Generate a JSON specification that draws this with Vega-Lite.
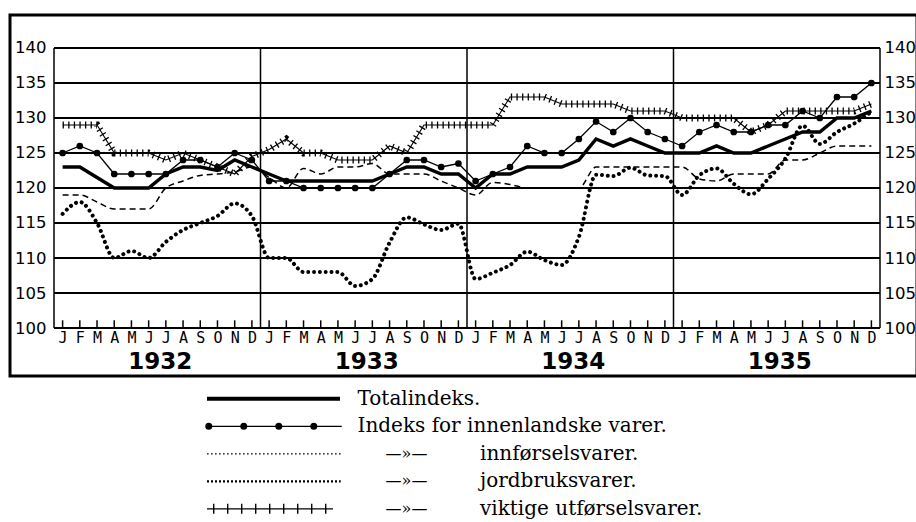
{
  "$schema": "https://vega.github.io/schema/vega-lite/v6.json",
  "padding": {"left": 8, "top": 13, "right": 0, "bottom": 0},
  "background": "white",
  "config": {"view": {"stroke": null}, "font": "DejaVu Sans"},
  "spacing": 1,
  "datasets": {
    "prices": [
      {"t":0,"total":123,"innen":125,"innf":119,"jord":116.3,"utf":129},
      {"t":1,"total":123,"innen":126,"innf":119,"jord":118,"utf":129},
      {"t":2,"total":121.5,"innen":125,"innf":118,"jord":115,"utf":129},
      {"t":3,"total":120,"innen":122,"innf":117,"jord":110,"utf":125},
      {"t":4,"total":120,"innen":122,"innf":117,"jord":111,"utf":125},
      {"t":5,"total":120,"innen":122,"innf":117,"jord":110,"utf":125},
      {"t":6,"total":122,"innen":122,"innf":120,"jord":112.3,"utf":124},
      {"t":7,"total":123,"innen":124,"innf":121,"jord":114,"utf":125},
      {"t":8,"total":123,"innen":124,"innf":121.8,"jord":115,"utf":124},
      {"t":9,"total":122.5,"innen":123,"innf":122,"jord":116,"utf":123},
      {"t":10,"total":124,"innen":125,"innf":122.3,"jord":117.8,"utf":122},
      {"t":11,"total":123,"innen":124,"innf":123,"jord":116,"utf":124.5},
      {"t":12,"total":122,"innen":121,"innf":121.5,"jord":110,"utf":125.5},
      {"t":13,"total":121,"innen":121,"innf":120,"jord":110,"utf":127},
      {"t":14,"total":121,"innen":120,"innf":122.8,"jord":108,"utf":125},
      {"t":15,"total":121,"innen":120,"innf":122,"jord":108,"utf":125},
      {"t":16,"total":121,"innen":120,"innf":123,"jord":108,"utf":124},
      {"t":17,"total":121,"innen":120,"innf":123,"jord":106,"utf":124},
      {"t":18,"total":121,"innen":120,"innf":123.5,"jord":107,"utf":124},
      {"t":19,"total":122,"innen":122,"innf":122,"jord":112.2,"utf":126},
      {"t":20,"total":123,"innen":124,"innf":122,"jord":115.8,"utf":125},
      {"t":21,"total":123,"innen":124,"innf":122,"jord":114.8,"utf":129},
      {"t":22,"total":122,"innen":123,"innf":121,"jord":114,"utf":129},
      {"t":23,"total":122,"innen":123.5,"innf":120,"jord":114.9,"utf":129},
      {"t":24,"total":120,"innen":121,"innf":119,"jord":107,"utf":129},
      {"t":25,"total":122,"innen":122,"innf":120.8,"jord":107.9,"utf":129},
      {"t":26,"total":122,"innen":123,"innf":120.5,"jord":109,"utf":133},
      {"t":27,"total":123,"innen":126,"innf":120,"jord":110.9,"utf":133},
      {"t":28,"total":123,"innen":125,"innf":120,"jord":109.7,"utf":133},
      {"t":29,"total":123,"innen":125,"innf":120,"jord":109,"utf":132},
      {"t":30,"total":124,"innen":127,"innf":120,"jord":113,"utf":132},
      {"t":31,"total":127,"innen":129.5,"innf":123,"jord":121.9,"utf":132},
      {"t":32,"total":126,"innen":128,"innf":123,"jord":121.7,"utf":132},
      {"t":33,"total":127,"innen":130,"innf":123,"jord":122.9,"utf":131},
      {"t":34,"total":126,"innen":128,"innf":123,"jord":121.8,"utf":131},
      {"t":35,"total":125,"innen":127,"innf":123,"jord":121.7,"utf":131},
      {"t":36,"total":125,"innen":126,"innf":123,"jord":119,"utf":130},
      {"t":37,"total":125,"innen":128,"innf":121.3,"jord":121.8,"utf":130},
      {"t":38,"total":126,"innen":129,"innf":121,"jord":122.8,"utf":130},
      {"t":39,"total":125,"innen":128,"innf":122,"jord":120.6,"utf":130},
      {"t":40,"total":125,"innen":128,"innf":122,"jord":119.1,"utf":128},
      {"t":41,"total":126,"innen":129,"innf":122,"jord":121.3,"utf":129},
      {"t":42,"total":127,"innen":129,"innf":124,"jord":124.2,"utf":131},
      {"t":43,"total":128,"innen":131,"innf":124,"jord":128.9,"utf":131},
      {"t":44,"total":128,"innen":130,"innf":125,"jord":126.3,"utf":131},
      {"t":45,"total":130,"innen":133,"innf":126,"jord":128,"utf":131},
      {"t":46,"total":130,"innen":133,"innf":126,"jord":129.2,"utf":131},
      {"t":47,"total":131,"innen":135,"innf":126,"jord":130.9,"utf":132}
    ],
    "hlines": [{"g":100},{"g":105},{"g":110},{"g":115},{"g":120},{"g":125},{"g":130},{"g":135},{"g":140}],
    "vlines": [{"v":-0.5},{"v":11.5},{"v":23.5},{"v":35.5},{"v":47.5}],
    "legend": [
      {"r":1,"label":"Totalindeks.","mid":""},
      {"r":2,"label":"Indeks for innenlandske varer.","mid":""},
      {"r":3,"label":"innførselsvarer.","mid":"—»—"},
      {"r":4,"label":"jordbruksvarer.","mid":"—»—"},
      {"r":5,"label":"viktige utførselsvarer.","mid":"—»—"}
    ]
  },
  "vconcat": [
    {
      "width": 907,
      "height": 361,
      "view": {"stroke": "black", "strokeWidth": 3},
      "resolve": {"axis": {"x": "independent", "y": "independent"}},
      "layer": [
        {
          "data": {"name": "hlines"},
          "mark": {"type": "rule", "color": "black", "strokeWidth": 1.8},
          "encoding": {
            "x": {"datum": -0.5, "type": "quantitative", "scale": {"domain": [-3.057, 49.65], "nice": false, "zero": false},
              "axis": {"orient": "bottom", "offset": -48, "values": [0,1,2,3,4,5,6,7,8,9,10,11,12,13,14,15,16,17,18,19,20,21,22,23,24,25,26,27,28,29,30,31,32,33,34,35,36,37,38,39,40,41,42,43,44,45,46,47],
                "labelExpr": "['J','F','M','A','M','J','J','A','S','O','N','D'][datum.value % 12]",
                "ticks": false, "domain": false, "grid": false, "title": null, "labelFont": "DejaVu Sans Mono", "labelFontSize": 15,
                "labelPadding": 2, "labelColor": "black", "labelAngle": 0, "labelOverlap": false, "labelFlush": false}},
            "x2": {"datum": 47.5},
            "y": {"field": "g", "type": "quantitative", "scale": {"domain": [93.143, 144.714], "nice": false, "zero": false},
              "axis": {"orient": "left", "offset": -40, "values": [100,105,110,115,120,125,130,135,140], "ticks": false, "domain": false, "grid": false,
                "title": null, "labelFont": "DejaVu Sans", "labelFontSize": 16.5, "labelColor": "black", "labelPadding": 4, "labelFlush": false}}
          }
        },
        {
          "data": {"name": "vlines"},
          "mark": {"type": "rule", "color": "black", "strokeWidth": 1.5},
          "encoding": {
            "x": {"field": "v", "type": "quantitative", "scale": {"domain": [-3.057, 49.65], "nice": false, "zero": false},
              "axis": {"orient": "bottom", "offset": -48, "values": [5.65, 17.65, 29.65, 41.65],
                "labelExpr": "'' + (1932 + floor(datum.value / 12))",
                "ticks": false, "domain": false, "grid": false, "title": null, "labelFont": "DejaVu Sans", "labelFontWeight": "bold",
                "labelFontSize": 23, "labelPadding": 22, "labelColor": "black", "labelFlush": false, "labelOverlap": false}},
            "y": {"datum": 100, "type": "quantitative", "scale": {"domain": [93.143, 144.714], "nice": false, "zero": false},
              "axis": {"orient": "right", "offset": -37, "values": [100,105,110,115,120,125,130,135,140], "ticks": false, "domain": false, "grid": false,
                "title": null, "labelFont": "DejaVu Sans", "labelFontSize": 16.5, "labelColor": "black", "labelPadding": 4, "labelFlush": false}},
            "y2": {"datum": 140}
          }
        },
        {
          "data": {"name": "prices"},
          "mark": {"type": "rule", "color": "black", "strokeWidth": 1.5},
          "encoding": {
            "x": {"field": "t", "type": "quantitative", "axis": null},
            "y": {"datum": 100, "type": "quantitative", "axis": null},
            "y2": {"datum": 101.1}
          }
        },
        {
          "data": {"name": "prices"},
          "mark": {"type": "line", "color": "black", "strokeWidth": 1.1},
          "encoding": {
            "x": {"field": "t", "type": "quantitative", "axis": null},
            "y": {"field": "utf", "type": "quantitative", "axis": null}
          }
        },
        {
          "data": {"name": "prices"},
          "mark": {"type": "line", "color": "black", "strokeWidth": 7, "strokeDash": [1.3, 4.3], "strokeCap": "butt"},
          "encoding": {
            "x": {"field": "t", "type": "quantitative", "axis": null},
            "y": {"field": "utf", "type": "quantitative", "axis": null}
          }
        },
        {
          "data": {"name": "prices"},
          "mark": {"type": "line", "color": "black", "strokeWidth": 1.5, "strokeDash": [6, 4], "interpolate": "monotone"},
          "encoding": {
            "x": {"field": "t", "type": "quantitative", "axis": null},
            "y": {"field": "innf", "type": "quantitative", "axis": null}
          }
        },
        {
          "data": {"name": "prices"},
          "mark": {"type": "line", "color": "black", "strokeWidth": 4, "strokeDash": [0.01, 5.8], "strokeCap": "round", "interpolate": "monotone"},
          "encoding": {
            "x": {"field": "t", "type": "quantitative", "axis": null},
            "y": {"field": "jord", "type": "quantitative", "axis": null}
          }
        },
        {
          "data": {"name": "prices"},
          "mark": {"type": "line", "color": "black", "strokeWidth": 3.5},
          "encoding": {
            "x": {"field": "t", "type": "quantitative", "axis": null},
            "y": {"field": "total", "type": "quantitative", "axis": null}
          }
        },
        {
          "data": {"name": "prices"},
          "mark": {"type": "line", "color": "black", "strokeWidth": 1.3},
          "encoding": {
            "x": {"field": "t", "type": "quantitative", "axis": null},
            "y": {"field": "innen", "type": "quantitative", "axis": null}
          }
        },
        {
          "data": {"name": "prices"},
          "mark": {"type": "point", "filled": true, "color": "black", "size": 45, "opacity": 1},
          "encoding": {
            "x": {"field": "t", "type": "quantitative", "axis": null},
            "y": {"field": "innen", "type": "quantitative", "axis": null}
          }
        }
      ]
    },
    {
      "width": 908,
      "height": 144,
      "layer": [
        {
          "data": {"values": [{}]},
          "mark": {"type": "rule", "color": "black", "strokeWidth": 4},
          "encoding": {
            "x": {"datum": 0, "type": "quantitative", "scale": {"domain": [-5.629, 20.314], "nice": false, "zero": false}, "axis": null},
            "x2": {"datum": 3.8},
            "y": {"datum": 1, "type": "quantitative", "scale": {"domain": [0.28, 5.516], "nice": false, "zero": false, "reverse": true}, "axis": null}
          }
        },
        {
          "data": {"values": [{}]},
          "mark": {"type": "rule", "color": "black", "strokeWidth": 1.3},
          "encoding": {
            "x": {"datum": 0, "type": "quantitative", "axis": null},
            "x2": {"datum": 3.85},
            "y": {"datum": 2, "type": "quantitative", "axis": null}
          }
        },
        {
          "data": {"values": [{}]},
          "mark": {"type": "rule", "color": "black", "strokeWidth": 7, "strokeDash": [0.01, 35], "strokeCap": "round"},
          "encoding": {
            "x": {"datum": 0.05, "type": "quantitative", "axis": null},
            "x2": {"datum": 3.5},
            "y": {"datum": 2, "type": "quantitative", "axis": null}
          }
        },
        {
          "data": {"values": [{}]},
          "mark": {"type": "rule", "color": "black", "strokeWidth": 1.3, "strokeDash": [1.6, 2.4]},
          "encoding": {
            "x": {"datum": 0, "type": "quantitative", "axis": null},
            "x2": {"datum": 3.82},
            "y": {"datum": 3, "type": "quantitative", "axis": null}
          }
        },
        {
          "data": {"values": [{}]},
          "mark": {"type": "rule", "color": "black", "strokeWidth": 2.3, "strokeDash": [2, 2]},
          "encoding": {
            "x": {"datum": 0, "type": "quantitative", "axis": null},
            "x2": {"datum": 3.82},
            "y": {"datum": 4, "type": "quantitative", "axis": null}
          }
        },
        {
          "data": {"values": [{}]},
          "mark": {"type": "rule", "color": "black", "strokeWidth": 1.2},
          "encoding": {
            "x": {"datum": 0, "type": "quantitative", "axis": null},
            "x2": {"datum": 3.6},
            "y": {"datum": 5, "type": "quantitative", "axis": null}
          }
        },
        {
          "data": {"values": [{}]},
          "mark": {"type": "rule", "color": "black", "strokeWidth": 10, "strokeDash": [1.4, 12.6], "strokeDashOffset": -6, "strokeCap": "butt"},
          "encoding": {
            "x": {"datum": 0, "type": "quantitative", "axis": null},
            "x2": {"datum": 3.6},
            "y": {"datum": 5, "type": "quantitative", "axis": null}
          }
        },
        {
          "data": {"name": "legend"},
          "transform": [{"filter": "datum.r <= 2"}],
          "mark": {"type": "text", "align": "left", "baseline": "middle", "font": "DejaVu Serif", "fontSize": 20, "color": "black"},
          "encoding": {
            "x": {"datum": 4.3, "type": "quantitative", "axis": null},
            "y": {"field": "r", "type": "quantitative", "axis": null},
            "text": {"field": "label"}
          }
        },
        {
          "data": {"name": "legend"},
          "transform": [{"filter": "datum.r >= 3"}],
          "mark": {"type": "text", "align": "left", "baseline": "middle", "font": "DejaVu Serif", "fontSize": 20, "color": "black"},
          "encoding": {
            "x": {"datum": 7.8, "type": "quantitative", "axis": null},
            "y": {"field": "r", "type": "quantitative", "axis": null},
            "text": {"field": "label"}
          }
        },
        {
          "data": {"name": "legend"},
          "transform": [{"filter": "datum.r >= 3"}],
          "mark": {"type": "text", "align": "center", "baseline": "middle", "font": "DejaVu Serif", "fontSize": 16, "color": "black"},
          "encoding": {
            "x": {"datum": 5.7, "type": "quantitative", "axis": null},
            "y": {"field": "r", "type": "quantitative", "axis": null},
            "text": {"field": "mid"}
          }
        }
      ]
    }
  ]
}
